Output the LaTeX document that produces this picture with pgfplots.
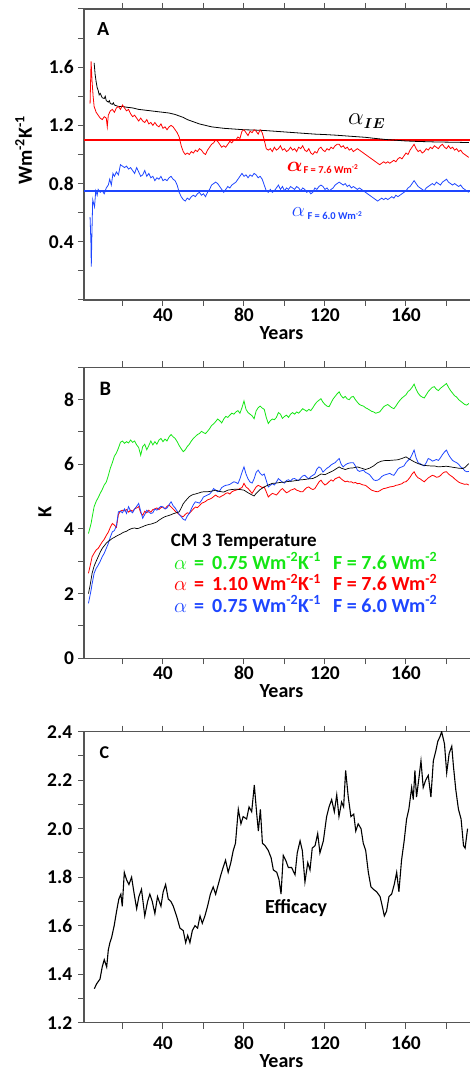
\documentclass[border=0pt]{standalone}
\usepackage{pgfplots}
\pgfplotsset{compat=1.18}
\usepackage{fontspec}
\setmainfont{Carlito}
\usepackage{bm}
\definecolor{cred}{RGB}{255,0,0}
\definecolor{cblue}{RGB}{30,70,255}
\definecolor{cgreen}{RGB}{20,230,20}
\definecolor{axgray}{RGB}{85,85,85}
\newcommand\tickfont{\bfseries\fontsize{19.5}{20}\selectfont}
\newcommand\labfont{\bfseries\fontsize{20}{20}\selectfont}
\pgfplotsset{
  panel/.style={
    scale only axis, width=394.9pt, height=291pt,
    xmin=1, xmax=196,
    axis line style={axgray, line width=1.4pt},
    tick style={axgray, line width=1pt},
    tick align=outside, major tick length=6pt,
    xtick pos=both, ytick pos=left,
    xtick={20,40,60,80,100,120,140,160,180},
    xticklabels={,40,,80,,120,,160,},
    xticklabel style={font=\tickfont, anchor=center, inner sep=0pt},
    yticklabel style={font=\tickfont, anchor=east, inner sep=0pt},
    xlabel={Years}, xlabel style={font=\labfont, anchor=center},
    ylabel style={font=\labfont, anchor=center},
    every axis plot/.append style={line width=0.8pt},
  },
}
\newcommand\legline[4]{%
  \node[#2, anchor=base west, inner sep=0pt, font=\fontsize{21}{21}\selectfont] at (174,#1) {$\alpha$};
  \node[#2, anchor=base west, inner sep=0pt, font=\labfont] at (194,#1) {=};
  \node[#2, anchor=base west, inner sep=0pt, font=\labfont] at (212,#1) {#3 Wm\textsuperscript{-2}K\textsuperscript{-1}};
  \node[#2, anchor=base west, inner sep=0pt, font=\labfont] at (333,#1) {F = #4 Wm\textsuperscript{-2}};
}
\begin{document}
\begin{tikzpicture}[x=1pt,y=1pt]
\useasboundingbox (0,0) rectangle (469,1071);

% ---------------- panel A
\begin{axis}[panel, at={(84pt,771pt)}, anchor=south west,
  ymin=0, ymax=2,
  ytick={0,0.2,0.4,0.6,0.8,1.0,1.2,1.4,1.6,1.8,2.0},
  yticklabels={,,0.4,,0.8,,1.2,,1.6,,},
  xticklabel style={yshift=-9pt},
  yticklabel style={xshift=-4pt},
  ylabel={Wm\textsuperscript{-2}K\textsuperscript{-1}},
  ylabel style={at={(axis description cs:-0.153,0.515)}},
  xlabel style={at={(axis description cs:0.5,-0.113)}},
]
\addplot[cred, line width=1.2pt] coordinates {(1,1.10) (196,1.10)};
\addplot[cblue, line width=1.4pt] coordinates {(1,0.75) (196,0.75)};
\addplot[black] coordinates {
(6,1.63) (6.5,1.55) (7,1.50) (7.5,1.46) (8,1.44) (8.5,1.41) (9,1.42) (10,1.39) (11,1.385) (11.5,1.40)
(12,1.37) (13,1.36) (13.5,1.37) (14,1.35) (15,1.345) (15.5,1.355) (16,1.34) (17,1.335) (18,1.33) (20,1.33)
(22,1.325) (25,1.32) (28,1.31) (31,1.305) (34,1.30) (37,1.295) (40,1.29) (43,1.285) (46,1.275) (48,1.265)
(50,1.255) (52,1.24) (55,1.225) (58,1.21) (61,1.20) (64,1.19) (67,1.185) (70,1.18) (75,1.175) (80,1.17)
(85,1.168) (90,1.165) (95,1.16) (100,1.155) (105,1.15) (110,1.145) (115,1.14) (120,1.137) (125,1.133)
(130,1.128) (135,1.123) (140,1.118) (145,1.11) (150,1.103) (155,1.098) (160,1.093) (165,1.09) (170,1.088)
(175,1.086) (180,1.085) (185,1.084) (191,1.082)
};
\addplot[cred] coordinates {
(4,1.35) (4.5,1.64) (5,1.50) (5.5,1.40) (6,1.33) (7,1.29) (8,1.27) (9,1.25) (10,1.24) (11,1.26)
(12,1.25) (12.5,1.19) (13,1.27) (14,1.30) (15,1.31) (16,1.29) (17,1.32) (18,1.33) (19,1.31) (20,1.34)
(21,1.32) (22,1.30) (23,1.31) (24,1.28) (25,1.26) (26,1.27) (27,1.25) (28,1.23) (29,1.25) (30,1.23)
(31,1.22) (32,1.24) (33,1.21) (34,1.22) (35,1.20) (36,1.22) (37,1.20) (38,1.19) (39,1.21) (40,1.18)
(41,1.19) (42,1.17) (43,1.19) (44,1.20) (45,1.19) (46,1.17) (47,1.15) (48,1.12) (49,1.06) (50,1.02)
(51,1.00) (52,1.01) (53,1.00) (54,1.02) (55,1.01) (56,1.03) (57,1.02) (58,1.04) (59,1.03) (60,1.01)
(61,1.00) (62,1.03) (63,1.05) (64,1.07) (65,1.08) (66,1.10) (67,1.09) (68,1.07) (69,1.05) (70,1.06)
(71,1.05) (72,1.07) (73,1.09) (74,1.08) (75,1.10) (76,1.10) (77,1.12) (78,1.11) (79,1.16) (80,1.17)
(81,1.15) (82,1.13) (83,1.16) (84,1.15) (85,1.17) (86,1.16) (87,1.14) (88,1.17) (89,1.15) (90,1.10)
(91,1.04) (92,1.03) (93,1.04) (94,1.02) (95,1.05) (96,1.03) (97,1.04) (98,1.06) (99,1.03) (100,1.04)
(101,1.02) (102,1.03) (103,1.05) (104,1.03) (105,1.04) (106,1.02) (107,1.05) (108,1.04) (109,1.06) (110,1.03)
(111,1.02) (112,1.04) (113,1.01) (114,1.00) (115,1.02) (116,1.01) (117,1.04) (118,1.05) (119,1.03) (120,1.02)
(121,1.04) (122,1.03) (123,1.05) (124,1.04) (125,1.06) (126,1.07) (127,1.07) (128,1.05) (129,1.06) (130,1.04)
(131,1.05) (132,1.03) (133,1.04) (134,1.02) (135,1.03) (136,1.04) (137,1.03) (138,1.02) (139,1.01) (140,1.00)
(141,0.99) (142,0.98) (143,0.97) (144,0.96) (145,0.95) (146,0.94) (147,0.93) (148,0.94) (149,0.95) (150,0.94)
(151,0.95) (152,0.94) (153,0.95) (154,0.96) (155,0.95) (156,0.97) (157,0.98) (158,0.97) (159,0.99) (160,1.01)
(161,1.00) (162,1.03) (163,1.05) (164,1.07) (165,1.04) (166,1.02) (167,1.03) (168,1.01) (169,1.02) (170,1.04)
(171,1.03) (172,1.05) (173,1.04) (174,1.06) (175,1.05) (176,1.04) (177,1.06) (178,1.07) (179,1.05) (180,1.04)
(181,1.06) (182,1.04) (183,1.05) (184,1.03) (185,1.04) (186,1.02) (187,1.03) (188,1.01) (189,1.00) (190,0.99)
(191,0.98)
};
\addplot[cblue] coordinates {
(4,0.57) (4.4,0.40) (4.6,0.23) (4.9,0.45) (5.3,0.69) (5.8,0.66) (6.2,0.64) (6.8,0.75) (7.5,0.72) (8,0.76)
(9,0.74) (10,0.75) (11,0.73) (12,0.77) (13,0.79) (13.7,0.83) (14.5,0.79) (15.3,0.87) (16,0.85) (17,0.88)
(18,0.86) (19,0.93) (20,0.92) (21,0.91) (22,0.92) (23,0.90) (24,0.91) (25,0.89) (26,0.87) (27,0.91)
(28,0.88) (29,0.85) (30,0.86) (31,0.89) (32,0.85) (33,0.87) (34,0.84) (35,0.85) (36,0.82) (37,0.84)
(38,0.83) (39,0.85) (40,0.82) (41,0.83) (42,0.82) (43,0.84) (44,0.85) (45,0.83) (46,0.82) (47,0.79)
(48,0.74) (49,0.71) (50,0.69) (51,0.68) (52,0.70) (53,0.69) (54,0.71) (55,0.72) (56,0.71) (57,0.73)
(58,0.74) (59,0.72) (60,0.73) (61,0.71) (62,0.74) (63,0.76) (64,0.79) (65,0.80) (66,0.81) (67,0.80)
(68,0.78) (69,0.76) (70,0.74) (71,0.76) (72,0.78) (73,0.77) (74,0.79) (75,0.80) (76,0.81) (77,0.83)
(78,0.85) (79,0.87) (80,0.85) (81,0.86) (82,0.84) (83,0.86) (84,0.85) (85,0.87) (86,0.86) (87,0.84)
(88,0.85) (89,0.83) (90,0.79) (91,0.75) (92,0.74) (93,0.76) (94,0.74) (95,0.75) (96,0.77) (97,0.79)
(98,0.76) (99,0.78) (100,0.75) (101,0.77) (102,0.76) (103,0.78) (104,0.77) (105,0.76) (106,0.78) (107,0.77)
(108,0.75) (109,0.77) (110,0.76) (111,0.74) (112,0.75) (113,0.73) (114,0.74) (115,0.77) (116,0.76) (117,0.78)
(118,0.79) (119,0.78) (120,0.76) (121,0.77) (122,0.75) (123,0.76) (124,0.77) (125,0.79) (126,0.80) (127,0.81)
(128,0.80) (129,0.79) (130,0.80) (131,0.78) (132,0.79) (133,0.77) (134,0.78) (135,0.77) (136,0.76) (137,0.77)
(138,0.76) (139,0.75) (140,0.74) (141,0.73) (142,0.72) (143,0.71) (144,0.70) (145,0.69) (146,0.68) (147,0.69)
(148,0.70) (149,0.69) (150,0.70) (151,0.69) (152,0.70) (153,0.71) (154,0.70) (155,0.72) (156,0.71) (157,0.72)
(158,0.73) (159,0.74) (160,0.75) (161,0.77) (162,0.78) (163,0.80) (164,0.82) (165,0.80) (166,0.78) (167,0.77)
(168,0.76) (169,0.75) (170,0.77) (171,0.78) (172,0.79) (173,0.80) (174,0.79) (175,0.81) (176,0.80) (177,0.79)
(178,0.81) (179,0.82) (180,0.83) (181,0.81) (182,0.80) (183,0.79) (184,0.80) (185,0.79) (186,0.78) (187,0.79)
(188,0.77) (189,0.76) (190,0.75) (191,0.74)
};
\end{axis}

% ---------------- panel B
\begin{axis}[panel, at={(84pt,412.7pt)}, anchor=south west,
  ymin=0, ymax=9,
  ytick={0,1,2,3,4,5,6,7,8,9},
  yticklabels={0,,2,,4,,6,,8,},
  xticklabel style={yshift=-8.7pt},
  yticklabel style={xshift=-3.7pt},
  ylabel={K},
  ylabel style={at={(axis description cs:-0.099,0.504)}},
  xlabel style={at={(axis description cs:0.5,-0.112)}},
]
\addplot[cgreen] coordinates {
(3.2,3.86) (4,4.05) (4.5,4.17) (5,4.35) (6,4.69) (7,4.85) (8,4.97) (9,5.10) (10,5.22) (11,5.36)
(12,5.45) (13,5.65) (14,5.88) (15,6.05) (16,6.25) (17,6.35) (18,6.50) (19,6.68) (20,6.72) (21,6.65)
(22,6.70) (23,6.66) (24,6.75) (25,6.68) (26,6.72) (27,6.60) (28,6.52) (29,6.28) (30,6.55) (31,6.62)
(32,6.45) (33,6.58) (34,6.72) (35,6.60) (36,6.70) (37,6.62) (38,6.75) (39,6.80) (40,6.70) (41,6.78)
(42,6.72) (43,6.85) (44,6.92) (45,6.85) (46,6.80) (47,6.70) (48,6.58) (49,6.48) (50,6.39) (51,6.45)
(52,6.55) (53,6.62) (54,6.72) (55,6.80) (56,6.86) (57,6.92) (58,6.95) (59,7.02) (60,6.98) (61,6.95)
(62,7.02) (63,7.10) (64,7.20) (65,7.25) (66,7.32) (67,7.40) (68,7.35) (69,7.28) (70,7.40) (71,7.48)
(72,7.45) (73,7.52) (74,7.58) (75,7.55) (76,7.62) (77,7.66) (78,7.58) (79,7.75) (80,7.96) (81,7.70)
(82,7.60) (83,7.55) (84,7.50) (85,7.41) (86,7.65) (87,7.75) (88,7.80) (89,7.74) (90,7.70) (91,7.45)
(92,7.26) (93,7.35) (94,7.40) (95,7.38) (96,7.45) (97,7.60) (98,7.55) (99,7.42) (100,7.48) (101,7.52)
(102,7.45) (103,7.55) (104,7.60) (105,7.55) (106,7.62) (107,7.58) (108,7.65) (109,7.72) (110,7.68) (111,7.64)
(112,7.70) (113,7.66) (114,7.75) (115,7.85) (116,7.93) (117,7.98) (118,8.03) (119,7.92) (120,7.85) (121,7.80)
(122,7.78) (123,7.90) (124,8.02) (125,8.10) (126,8.18) (127,8.24) (128,8.12) (129,8.05) (130,8.10) (131,8.02)
(132,8.00) (133,8.08) (134,8.10) (135,8.00) (136,7.92) (137,7.85) (138,7.82) (139,7.80) (140,7.75) (141,7.72)
(142,7.68) (143,7.64) (144,7.62) (145,7.58) (146,7.60) (147,7.62) (148,7.70) (149,7.78) (150,7.82) (151,7.85)
(152,7.80) (153,7.75) (154,7.72) (155,7.80) (156,7.90) (157,7.98) (158,8.05) (159,8.10) (160,8.15) (161,8.25)
(162,8.30) (163,8.38) (164,8.48) (165,8.32) (166,8.20) (167,8.12) (168,8.08) (169,8.05) (170,8.15) (171,8.25)
(172,8.32) (173,8.38) (174,8.40) (175,8.32) (176,8.28) (177,8.35) (178,8.40) (179,8.45) (180,8.50) (181,8.38)
(182,8.28) (183,8.20) (184,8.12) (185,8.08) (186,8.00) (187,7.95) (188,7.90) (189,7.85) (190,7.83) (191,7.88)
};
\addplot[cred] coordinates {
(3.2,2.63) (4,2.85) (5,3.14) (6,3.25) (7,3.35) (8,3.40) (9,3.50) (10,3.60) (11,3.68) (12,3.80)
(13,3.90) (14,4.05) (15,4.17) (16,4.12) (17,4.05) (18,4.45) (19,4.55) (20,4.58) (21,4.56) (22,4.60)
(23,4.52) (24,4.58) (25,4.55) (26,4.62) (27,4.65) (28,4.69) (29,4.50) (30,4.42) (31,4.55) (32,4.50)
(33,4.58) (34,4.52) (35,4.60) (36,4.62) (37,4.65) (38,4.60) (39,4.66) (40,4.68) (41,4.62) (42,4.70)
(43,4.74) (44,4.68) (45,4.62) (46,4.55) (47,4.50) (48,4.45) (49,4.40) (50,4.38) (51,4.45) (52,4.50)
(53,4.48) (54,4.55) (55,4.62) (56,4.68) (57,4.66) (58,4.72) (59,4.79) (60,4.82) (61,4.85) (62,4.90)
(63,4.92) (64,4.95) (65,5.00) (66,5.05) (67,5.00) (68,4.98) (69,5.02) (70,5.05) (71,5.10) (72,5.12)
(73,5.08) (74,5.15) (75,5.18) (76,5.20) (77,5.22) (78,5.25) (79,5.28) (80,5.41) (81,5.30) (82,5.25)
(83,5.18) (84,5.10) (85,5.20) (86,5.30) (87,5.35) (88,5.32) (89,5.28) (90,5.30) (91,5.15) (92,4.99)
(93,5.05) (94,5.10) (95,5.08) (96,5.05) (97,5.12) (98,5.20) (99,5.25) (100,5.18) (101,5.12) (102,5.15)
(103,5.20) (104,5.22) (105,5.25) (106,5.20) (107,5.18) (108,5.15) (109,5.15) (110,5.22) (111,5.28) (112,5.30)
(113,5.25) (114,5.22) (115,5.25) (116,5.35) (117,5.45) (118,5.51) (119,5.42) (120,5.36) (121,5.40) (122,5.46)
(123,5.52) (124,5.48) (125,5.55) (126,5.58) (127,5.61) (128,5.55) (129,5.50) (130,5.46) (131,5.48) (132,5.45)
(133,5.46) (134,5.42) (135,5.44) (136,5.40) (137,5.41) (138,5.38) (139,5.36) (140,5.35) (141,5.30) (142,5.25)
(143,5.20) (144,5.18) (145,5.16) (146,5.15) (147,5.18) (148,5.22) (149,5.25) (150,5.26) (151,5.28) (152,5.30)
(153,5.31) (154,5.32) (155,5.35) (156,5.36) (157,5.38) (158,5.40) (159,5.45) (160,5.46) (161,5.52) (162,5.60)
(163,5.70) (164,5.77) (165,5.65) (166,5.58) (167,5.55) (168,5.50) (169,5.46) (170,5.52) (171,5.58) (172,5.62)
(173,5.66) (174,5.64) (175,5.60) (176,5.61) (177,5.65) (178,5.72) (179,5.76) (180,5.77) (181,5.70) (182,5.65)
(183,5.61) (184,5.55) (185,5.50) (186,5.45) (187,5.42) (188,5.40) (189,5.38) (190,5.39) (191,5.36)
};
\addplot[cblue] coordinates {
(3.2,1.70) (4,1.95) (4.5,2.11) (5,2.30) (6,2.63) (7,2.78) (8,2.88) (9,3.00) (10,3.14) (11,3.25)
(12,3.40) (13,3.55) (14,3.75) (15,3.91) (16,3.95) (17,4.10) (18,4.53) (19,4.55) (20,4.50) (21,4.62)
(22,4.48) (23,4.69) (24,4.55) (25,4.50) (26,4.62) (27,4.70) (28,4.79) (29,4.55) (30,4.33) (31,4.45)
(32,4.58) (33,4.52) (34,4.48) (35,4.50) (36,4.62) (37,4.58) (38,4.65) (39,4.70) (40,4.68) (41,4.62)
(42,4.65) (43,4.75) (44,4.84) (45,4.72) (46,4.65) (47,4.55) (48,4.45) (49,4.38) (50,4.30) (51,4.27)
(52,4.40) (53,4.48) (54,4.62) (55,4.75) (56,4.84) (57,4.82) (58,4.80) (59,4.88) (60,4.99) (61,5.02)
(62,5.05) (63,5.08) (64,5.15) (65,5.25) (66,5.20) (67,5.15) (68,5.18) (69,5.28) (70,5.32) (71,5.35)
(72,5.36) (73,5.38) (74,5.42) (75,5.46) (76,5.44) (77,5.40) (78,5.55) (79,5.75) (80,5.92) (81,5.70)
(82,5.55) (83,5.45) (84,5.42) (85,5.55) (86,5.75) (87,5.82) (88,5.72) (89,5.66) (90,5.70) (91,5.50)
(92,5.30) (93,5.35) (94,5.40) (95,5.36) (96,5.45) (97,5.56) (98,5.50) (99,5.45) (100,5.42) (101,5.50)
(102,5.52) (103,5.48) (104,5.55) (105,5.56) (106,5.52) (107,5.50) (108,5.58) (109,5.64) (110,5.66) (111,5.60)
(112,5.55) (113,5.62) (114,5.66) (115,5.70) (116,5.85) (117,5.92) (118,5.88) (119,5.76) (120,5.82) (121,5.88)
(122,5.92) (123,5.98) (124,6.02) (125,6.05) (126,6.12) (127,6.18) (128,6.00) (129,5.92) (130,5.98) (131,6.02)
(132,6.04) (133,6.05) (134,6.05) (135,5.95) (136,5.82) (137,5.78) (138,5.80) (139,5.82) (140,5.75) (141,5.72)
(142,5.68) (143,5.60) (144,5.52) (145,5.50) (146,5.51) (147,5.55) (148,5.62) (149,5.66) (150,5.68) (151,5.70)
(152,5.72) (153,5.68) (154,5.66) (155,5.75) (156,5.85) (157,5.90) (158,5.92) (159,5.95) (160,6.05) (161,6.12)
(162,6.18) (163,6.30) (164,6.44) (165,6.20) (166,6.05) (167,6.02) (168,5.98) (169,5.95) (170,6.05) (171,6.18)
(172,6.15) (173,6.10) (174,6.12) (175,6.15) (176,6.12) (177,6.20) (178,6.30) (179,6.38) (180,6.44) (181,6.30)
(182,6.20) (183,6.12) (184,6.08) (185,6.05) (186,6.00) (187,5.92) (188,5.88) (189,5.80) (190,5.77) (191,5.78)
};
\addplot[black, line width=0.7pt] coordinates {
(3.2,2.00) (4,2.25) (5,2.63) (6,2.85) (7,3.00) (8,3.14) (9,3.28) (10,3.40) (11,3.48) (12,3.56)
(13,3.62) (14,3.66) (15,3.71) (16,3.74) (17,3.78) (18,3.81) (19,3.84) (20,3.88) (21,3.91) (22,3.93)
(23,3.97) (24,4.00) (25,4.02) (26,4.03) (27,4.01) (28,4.02) (29,4.05) (30,4.07) (31,4.10) (32,4.12)
(33,4.14) (34,4.15) (35,4.17) (36,4.19) (37,4.22) (38,4.27) (39,4.31) (40,4.35) (41,4.38) (42,4.40)
(43,4.42) (44,4.44) (45,4.47) (46,4.49) (47,4.51) (48,4.53) (49,4.65) (50,4.78) (51,4.86) (52,4.93)
(53,5.00) (54,5.04) (55,5.07) (56,5.08) (57,5.10) (58,5.12) (59,5.14) (60,5.15) (62,5.15) (64,5.17)
(66,5.20) (68,5.16) (70,5.14) (72,5.20) (74,5.22) (76,5.23) (78,5.22) (80,5.20) (82,5.12) (84,5.05)
(85,5.02) (86,5.10) (88,5.22) (90,5.30) (92,5.36) (94,5.41) (96,5.42) (98,5.44) (100,5.45) (102,5.47)
(104,5.48) (106,5.50) (108,5.52) (110,5.53) (112,5.55) (114,5.56) (116,5.62) (118,5.70) (120,5.68) (122,5.74)
(124,5.80) (126,5.88) (127,5.92) (128,5.88) (130,5.84) (132,5.88) (134,5.89) (136,5.92) (138,5.88) (140,5.84)
(142,5.88) (144,5.95) (146,6.05) (148,6.10) (150,6.12) (152,6.12) (154,6.13) (156,6.14) (158,6.18) (160,6.23)
(162,6.15) (164,6.08) (166,6.02) (168,5.98) (170,5.96) (172,5.95) (174,5.95) (176,5.92) (178,5.93) (180,5.94)
(182,5.92) (184,5.90) (186,5.88) (188,5.87) (189,5.90) (191,6.02)
};
\end{axis}

% ---------------- panel C
\begin{axis}[panel, at={(84pt,48.3pt)}, anchor=south west,
  ymin=1.2, ymax=2.4,
  ytick={1.2,1.3,1.4,1.5,1.6,1.7,1.8,1.9,2.0,2.1,2.2,2.3,2.4},
  yticklabels={1.2,,1.4,,1.6,,1.8,,2.0,,2.2,,2.4},
  xticklabel style={yshift=-14.3pt},
  yticklabel style={xshift=-5.6pt},
  xlabel style={at={(axis description cs:0.5,-0.132)}},
]
\addplot[black, line width=1.1pt] coordinates {
(6.1,1.34) (7.2,1.36) (8.9,1.38) (10,1.43) (11,1.46) (12.2,1.43) (13,1.50) (13.8,1.53) (14.6,1.55) (15.9,1.60)
(17.1,1.66) (18.2,1.71) (19.2,1.73) (19.9,1.68) (20.9,1.82) (22,1.79) (23.2,1.77) (24.5,1.80) (25.8,1.73) (27,1.67)
(28.1,1.72) (29.4,1.75) (31,1.64) (32.4,1.70) (33.5,1.73) (34.7,1.70) (36,1.65) (37.3,1.72) (39,1.68) (40.1,1.74)
(41.3,1.77) (42.6,1.71) (43.9,1.70) (45.1,1.68) (46.7,1.64) (48.4,1.59) (50,1.58) (51.2,1.53) (52.2,1.56) (53.3,1.53)
(54.5,1.58) (55.8,1.60) (57.1,1.59) (58.3,1.64) (59.4,1.61) (60.7,1.64) (62,1.68) (63.4,1.73) (64.8,1.76) (66,1.73)
(67.3,1.77) (68.6,1.81) (69.7,1.84) (70.9,1.87) (72.2,1.82) (73.5,1.86) (74.7,1.91) (75.8,1.94) (77.2,2.08) (78.5,2.02)
(79.6,2.05) (81.3,2.04) (82.5,2.09) (83.8,2.07) (85.1,2.18) (86.3,2.06) (87.1,1.99) (88.1,2.08) (89.1,1.94) (90.4,1.93)
(92,1.91) (93.4,1.88) (94.5,1.83) (96.2,1.82) (97.3,1.79) (98.3,1.73) (99.4,1.89) (100.6,1.87) (101.9,1.84) (103.5,1.84)
(105.2,1.81) (106.3,1.90) (107.7,1.95) (108.8,1.91) (110.1,1.78) (111.5,1.86) (112.6,1.83) (113.7,1.92) (115.1,1.93) (116.4,1.98)
(117.5,1.90) (119.2,1.95) (120.8,2.05) (122,2.09) (123.3,2.12) (124.6,2.07) (125.8,2.14) (126.9,2.05) (128.2,2.11) (129.2,2.09)
(130.2,2.24) (131.5,2.13) (132.8,2.05) (134.2,2.06) (135.2,1.99) (136.4,2.02) (137.8,2.00) (138.9,1.94) (140.1,1.91) (141.4,1.82)
(142.7,1.76) (143.9,1.75) (145.5,1.74) (147.2,1.72) (148.3,1.68) (149.3,1.64) (150.4,1.66) (151.6,1.72) (152.9,1.73) (154.2,1.77)
(155.4,1.82) (156.5,1.74) (157.8,1.87) (159.1,1.95) (160.3,2.04) (161.4,2.08) (162.8,2.17) (163.6,2.12) (164.4,2.24) (165.2,2.13)
(166.4,2.21) (167.4,2.28) (168.5,2.17) (169.7,2.20) (171,2.22) (172.3,2.13) (173.5,2.28) (174.7,2.32) (175.7,2.36) (176.8,2.38)
(177.6,2.40) (179,2.35) (180.1,2.23) (181.3,2.31) (182.6,2.34) (183.4,2.26) (184.6,2.16) (185.9,2.08) (187.2,2.04) (188.4,1.93)
(189.2,1.92) (190.4,2.00)
};
\end{axis}

% panel letters and annotations
\node[anchor=base west, inner sep=0pt, font=\bfseries\fontsize{20}{20}\selectfont] at (97,1035) {A};
\node[anchor=base west, inner sep=0pt, font=\bfseries\fontsize{20.5}{20}\selectfont] at (99.3,675) {B};
\node[anchor=base west, inner sep=0pt, font=\bfseries\fontsize{18}{18}\selectfont] at (99.3,312.7) {C};

\node[anchor=base west, inner sep=0pt, font=\fontsize{23}{23}\selectfont] at (348,946) {$\alpha$\raisebox{-3.5pt}{\fontsize{15}{15}\selectfont$\bm{IE}$}};
\node[cred, anchor=base west, inner sep=0pt, font=\fontsize{22}{22}\selectfont] at (286.7,899.3) {$\bm{\alpha}$};
\node[cred, anchor=base west, inner sep=0pt, font=\bfseries\fontsize{10.5}{11}\selectfont] at (303.3,897.7) {F = 7.6 Wm\textsuperscript{-2}};
\node[cblue, anchor=base west, inner sep=0pt, font=\fontsize{22}{22}\selectfont] at (291.7,854.3) {$\alpha$};
\node[cblue, anchor=base west, inner sep=0pt, font=\bfseries\fontsize{10.5}{11}\selectfont] at (307.3,851) {F = 6.0 Wm\textsuperscript{-2}};

\node[anchor=base west, inner sep=0pt, font=\bfseries\fontsize{19}{19}\selectfont] at (170.7,524.3) {CM 3 Temperature};
\legline{501.7}{cgreen}{0.75}{7.6}
\legline{480.3}{cred}{1.10}{7.6}
\legline{458.8}{cblue}{0.75}{6.0}

\node[anchor=base west, inner sep=0pt, font=\bfseries\fontsize{20}{20}\selectfont] at (265,157.7) {Efficacy};
\end{tikzpicture}
\end{document}
